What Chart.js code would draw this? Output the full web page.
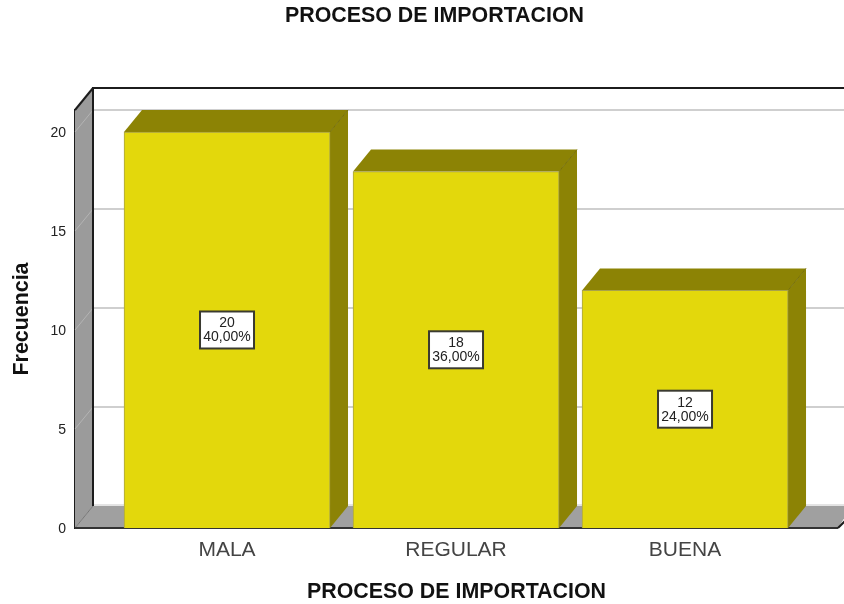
<!DOCTYPE html>
<html><head><meta charset="utf-8">
<script src="https://cdn.jsdelivr.net/npm/chart.js@4"></script>
<style>html,body{margin:0;padding:0;background:#fff}canvas{display:block}</style>
</head><body>
<canvas id="c" width="844" height="604"></canvas>
<script>
const categories = ['MALA', 'REGULAR', 'BUENA'];
const positions = [0, 1, 2];
const counts = [20, 18, 12];
const percents = ['40,00%', '36,00%', '24,00%'];
const yTicks = [0, 5, 10, 15, 20];
const titleText = 'PROCESO DE IMPORTACION';
const yTitle = 'Frecuencia';

const FACE = '#e3d80c', SHADE = '#8c8305', WALL = '#a0a0a0', GRID = '#cfcfcf', INK = '#1c1c1c';
const DX = 18, DY = 22;
const FONT = '"Liberation Sans", Arial, sans-serif';

function poly(ctx, pts, fill, stroke, lw) {
  ctx.beginPath();
  pts.forEach((p, i) => i ? ctx.lineTo(p[0], p[1]) : ctx.moveTo(p[0], p[1]));
  ctx.closePath();
  if (fill) { ctx.fillStyle = fill; ctx.fill(); }
  if (stroke) { ctx.strokeStyle = stroke; ctx.lineWidth = lw || 1; ctx.stroke(); }
}
function seg(ctx, x1, y1, x2, y2, color, lw) {
  ctx.beginPath(); ctx.moveTo(x1, y1); ctx.lineTo(x2, y2);
  ctx.strokeStyle = color; ctx.lineWidth = lw; ctx.stroke();
}

const box3d = {
  id: 'box3d',
  beforeDatasetsDraw(chart) {
    const { ctx, chartArea: a, scales: { y } } = chart;
    const L = a.left, R = a.right, T = a.top, B = a.bottom, W = chart.width;
    ctx.save();
    // back wall grid lines
    yTicks.forEach(v => {
      const py = y.getPixelForValue(v);
      if (v > 0) seg(ctx, L + DX, py - DY, W, py - DY, GRID, 2);
    });
    // floor
    poly(ctx, [[L, B], [L + DX, B - DY], [W + 8, B - DY], [R, B]], WALL);
    seg(ctx, L + DX, B - DY - 1, W, B - DY - 1, '#c8c8c8', 1);
    // left wall
    poly(ctx, [[L, T], [L + DX, T - DY], [L + DX, B - DY], [L, B]], '#9b9b9b');
    yTicks.forEach(v => {
      const py = y.getPixelForValue(v);
      seg(ctx, L, py, L + DX, py - DY, v ? '#b4b4b4' : '#777777', 1);
    });
    // frame
    seg(ctx, L + DX, T - DY, W, T - DY, INK, 2);
    seg(ctx, L + DX, T - DY - 1, L + DX, B - DY, INK, 2);
    seg(ctx, L, T, L + DX, T - DY, INK, 2);
    seg(ctx, L, B, R, B, '#333333', 2);
    seg(ctx, R, B, W + 8, B - 14, INK, 2);
    // bar sides and tops
    chart.getDatasetMeta(0).data.forEach(bar => {
      const x0 = bar.x - bar.width / 2, x1 = bar.x + bar.width / 2;
      poly(ctx, [[x0, bar.y], [x0 + DX, bar.y - DY], [x1 + DX, bar.y - DY], [x1, bar.y]], SHADE);
      poly(ctx, [[x1, bar.y], [x1 + DX, bar.y - DY], [x1 + DX, B - DY], [x1, B]], SHADE);
      seg(ctx, x1, bar.y, x1 + DX, bar.y - DY, '#77700a', 1);
    });
    ctx.restore();
  },
  afterDatasetsDraw(chart) {
    const { ctx, scales: { y } } = chart;
    ctx.save();
    ctx.textAlign = 'center';
    ctx.textBaseline = 'middle';
    ctx.font = '14px ' + FONT;
    chart.getDatasetMeta(0).data.forEach((bar, i) => {
      const cy = (bar.y + y.getPixelForValue(0)) / 2;
      const bw = 54, bh = 37;
      ctx.fillStyle = '#ffffff';
      ctx.fillRect(bar.x - bw / 2, cy - bh / 2, bw, bh);
      ctx.strokeStyle = '#3a3a30';
      ctx.lineWidth = 2;
      ctx.strokeRect(bar.x - bw / 2, cy - bh / 2, bw, bh);
      ctx.fillStyle = '#222222';
      ctx.fillText(String(counts[i]), bar.x, cy - 6.5);
      ctx.fillText(percents[i], bar.x, cy + 7.5);
    });
    ctx.restore();
  }
};

new Chart(document.getElementById('c'), {
  type: 'bar',
  data: {
    datasets: [{
      data: positions.map((p, i) => ({ x: p, y: counts[i] })),
      backgroundColor: FACE,
      borderColor: '#a8a24a',
      borderWidth: 1,
      barThickness: 206
    }]
  },
  options: {
    responsive: false,
    animation: false,
    layout: { padding: { left: 31, right: 6, top: 0, bottom: 0 } },
    plugins: {
      legend: { display: false },
      tooltip: { enabled: false },
      title: {
        display: true,
        text: titleText,
        color: '#111111',
        font: { family: FONT, size: 21.4, weight: 'bold' },
        padding: { top: 3, bottom: 81.32 }
      }
    },
    scales: {
      x: {
        type: 'linear',
        offset: false,
        min: -0.6638,
        max: 2.668,
        afterBuildTicks(s) { s.ticks = positions.map(v => ({ value: v })); },
        afterFit(s) { s.height = 76; },
        grid: { display: false, drawTicks: false },
        border: { display: false },
        ticks: {
          autoSkip: false,
          maxRotation: 0,
          padding: 10,
          color: '#444444',
          font: { family: FONT, size: 21 },
          callback: v => categories[v]
        },
        title: {
          display: true,
          text: titleText,
          color: '#111111',
          font: { family: FONT, size: 21.4, weight: 'bold' },
          padding: { top: 14, bottom: -1 }
        }
      },
      y: {
        min: 0,
        max: 21.11,
        afterBuildTicks(s) { s.ticks = yTicks.map(v => ({ value: v })); },
        afterFit(s) { s.width = 44; },
        grid: { display: false, drawTicks: false },
        border: { display: true, color: INK, width: 2 },
        ticks: {
          padding: 9,
          labelOffset: 1,
          color: '#222222',
          font: { family: FONT, size: 14 }
        },
        title: {
          display: true,
          text: yTitle,
          color: '#111111',
          font: { family: FONT, size: 21.4, weight: 'bold' },
          padding: { top: -22, bottom: 30 }
        }
      }
    }
  },
  plugins: [box3d]
});
</script>
</body></html>
